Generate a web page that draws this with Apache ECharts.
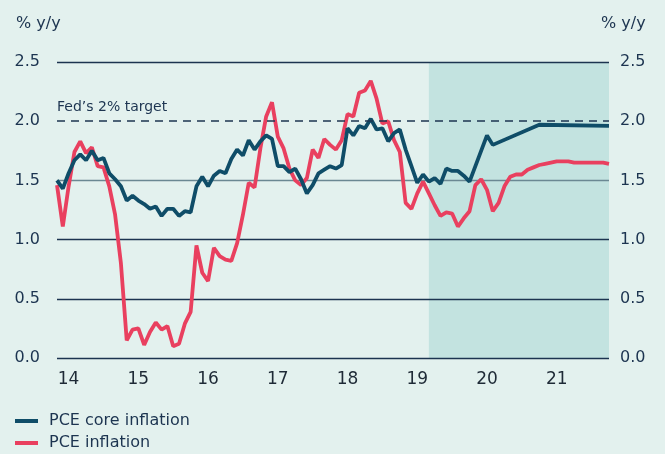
<!DOCTYPE html>
<html>
<head>
<meta charset="utf-8">
<script src="https://cdn.jsdelivr.net/npm/echarts@6/dist/echarts.min.js"></script>
<style>
  html, body { margin: 0; padding: 0; background: #e3f1ee; }
  #chart { width: 665px; height: 454px; }
</style>
</head>
<body>
<div id="chart"></div>
<script>
// monthly categories, Nov 2013 .. Oct 2021
const months = [];
for (let y = 2013; y <= 2021; y++) {
  for (let m = 1; m <= 12; m++) {
    if (y === 2013 && m < 11) continue;
    if (y === 2021 && m > 10) continue;
    months.push(y + "-" + String(m).padStart(2, "0"));
  }
}

// PCE core inflation, % y/y (null = straight forecast segment)
const coreInflation = [
  1.50, 1.43, 1.56, 1.67, 1.72, 1.67, 1.75, 1.67, 1.69, 1.56,
  1.51, 1.45, 1.33, 1.37, 1.33, 1.30, 1.26, 1.28, 1.20, 1.26,
  1.26, 1.20, 1.24, 1.23, 1.45, 1.53, 1.45, 1.54, 1.58, 1.56,
  1.68, 1.76, 1.71, 1.84, 1.76, 1.83, 1.88, 1.85, 1.62, 1.62,
  1.57, 1.60, 1.51, 1.39, 1.46, 1.56, 1.59, 1.62, 1.60, 1.63,
  1.94, 1.88, 1.96, 1.94, 2.02, 1.93, 1.94, 1.83, 1.90, 1.93,
  1.76, 1.62, 1.48, 1.55, 1.49, 1.52, 1.47, 1.60, 1.58, 1.58,
  1.54, 1.49, null, null, 1.88, 1.80, null, null, null, null,
  null, null, null, 1.97, null, null, null, null, null, null,
  null, null, null, null, null, 1.96
];

// PCE inflation, % y/y
const pceInflation = [
  1.46, 1.11, 1.45, 1.74, 1.83, 1.73, 1.78, 1.62, 1.61, 1.45,
  1.21, 0.80, 0.15, 0.24, 0.25, 0.11, 0.22, 0.30, 0.24, 0.27,
  0.10, 0.12, 0.29, 0.39, 0.95, 0.72, 0.65, 0.93, 0.86, 0.83,
  0.82, 0.97, 1.21, 1.48, 1.44, 1.77, 2.04, 2.16, 1.87, 1.77,
  1.60, 1.50, 1.46, 1.52, 1.76, 1.69, 1.85, 1.80, 1.76, 1.84,
  2.06, 2.04, 2.24, 2.26, 2.34, 2.19, 1.98, 2.00, 1.84, 1.74,
  1.31, 1.26, 1.39, 1.49, 1.39, 1.29, 1.20, 1.23, 1.22, 1.11,
  1.18, 1.24, 1.46, 1.51, 1.42, 1.24, 1.31, 1.45, 1.53, 1.55,
  1.55, 1.59, 1.61, 1.63, 1.64, 1.65, 1.66, 1.66, 1.66, 1.65,
  1.65, 1.65, 1.65, 1.65, 1.65, 1.64
];

const forecastStart = "2019-03";
const fedTarget = 2.0;

const navy = "#1c3450";
const font = "DejaVu Sans";

const chart = echarts.init(document.getElementById("chart"));
const option = {
  backgroundColor: "#e3f1ee",
  animation: false,
  textStyle: { fontFamily: font },
  title: [
    { text: "% y/y", left: 11, top: 11, textStyle: { fontFamily: font, fontSize: 16, fontWeight: "normal", color: navy } },
    { text: "% y/y", left: 596, top: 11, textStyle: { fontFamily: font, fontSize: 16, fontWeight: "normal", color: navy } }
  ],
  grid: { left: 57, right: 56, top: 62, bottom: 96 },
  legend: {
    data: ["PCE core inflation", "PCE inflation"],
    orient: "vertical",
    left: 15,
    top: 412,
    padding: 0,
    height: 42,
    itemWidth: 23,
    itemHeight: 4,
    itemGap: 4,
    icon: "rect",
    textStyle: { fontFamily: font, fontSize: 16, color: navy, lineHeight: 18, padding: [0, 0, 0, 6] }
  },
  xAxis: {
    type: "category",
    data: months,
    boundaryGap: false,
    axisLine: { show: false },
    axisTick: { show: false },
    splitLine: { show: false },
    axisLabel: {
      interval: (idx, val) => val.endsWith("-01"),
      formatter: (val) => val.slice(2, 4),
      fontFamily: font,
      fontSize: 17,
      color: "#1e2a36",
      margin: 13
    }
  },
  yAxis: [
    {
      type: "value",
      position: "left",
      min: 0,
      max: 2.5,
      interval: 0.5,
      axisLine: { show: false },
      axisTick: { show: false },
      axisLabel: { formatter: (v) => v.toFixed(1), fontFamily: font, fontSize: 16, color: navy, margin: 17 },
      splitLine: {
        show: true,
        lineStyle: { color: [navy, navy, navy, "#6b8893", "rgba(0,0,0,0)", navy], width: 1.3 }
      }
    },
    {
      type: "value",
      position: "right",
      min: 0,
      max: 2.5,
      interval: 0.5,
      axisLine: { show: false },
      axisTick: { show: false },
      axisLabel: { formatter: (v) => v.toFixed(1), fontFamily: font, fontSize: 16, color: navy, margin: 11 },
      splitLine: { show: false }
    }
  ],
  series: [
    {
      name: "forecast",
      type: "line",
      z: -1,
      data: [],
      markArea: {
        silent: true,
        z: -1,
        itemStyle: { color: "#c3e3e0" },
        data: [[{ xAxis: forecastStart }, { xAxis: months[months.length - 1] }]]
      }
    },
    {
      name: "PCE core inflation",
      type: "line",
      data: coreInflation,
      connectNulls: true,
      showSymbol: false,
      symbol: "none",
      color: "#0f4d68",
      lineStyle: { width: 3.8, color: "#0f4d68" },
      z: 4,
      markLine: {
        silent: true,
        symbol: "none",
        lineStyle: { type: [8, 6], color: navy, width: 1.6 },
        label: {
          show: true,
          position: "insideStartTop",
          formatter: "Fed\u2019s 2% target",
          fontFamily: font,
          fontSize: 14,
          color: navy,
          distance: [0, 7]
        },
        data: [{ yAxis: fedTarget }]
      }
    },
    {
      name: "PCE inflation",
      type: "line",
      data: pceInflation,
      showSymbol: false,
      symbol: "none",
      color: "#e9405f",
      lineStyle: { width: 3.8, color: "#e9405f" },
      z: 3
    }
  ]
};
chart.setOption(option);
window.addEventListener("resize", () => chart.resize());
</script>
</body>
</html>
